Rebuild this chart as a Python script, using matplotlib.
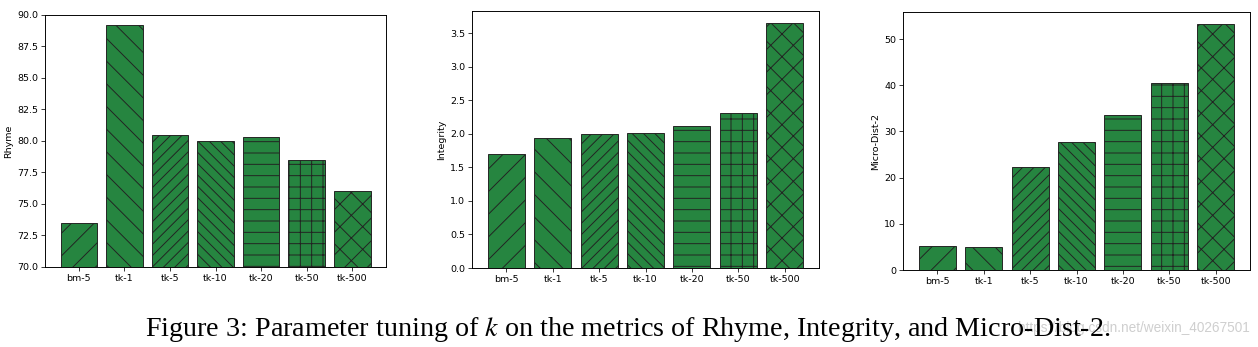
import matplotlib
matplotlib.use("Agg")
import matplotlib.pyplot as plt

categories = ["bm-5", "tk-1", "tk-5", "tk-10", "tk-20", "tk-50", "tk-500"]
hatches = ["/", "\\", "//", "\\\\", "-", "+", "x"]
rhyme = [73.5, 89.2, 80.5, 80.0, 80.3, 78.5, 76.0]
integrity = [1.70, 1.94, 2.00, 2.01, 2.12, 2.31, 3.65]
micro_dist2 = [5.3, 4.9, 22.3, 27.8, 33.6, 40.5, 53.2]

W, H = 1258, 347
DPI = 68
S = 100 / DPI  # scale so point sizes given at 100 dpi look the same
fig = plt.figure(figsize=(W / DPI, H / DPI), dpi=DPI)
plt.rcParams['hatch.linewidth'] = 1.0
plt.rcParams['hatch.color'] = '#222222'

panels = [
    (45, 386, 15, 267, rhyme, "Rhyme", (70, 90), [70.0, 72.5, 75.0, 77.5, 80.0, 82.5, 85.0, 87.5, 90.0], "{:.1f}"),
    (472, 819, 11, 268, integrity, "Integrity", None, [0.0, 0.5, 1.0, 1.5, 2.0, 2.5, 3.0, 3.5], "{:.1f}"),
    (903, 1250, 12, 270, micro_dist2, "Micro-Dist-2", None, [0, 10, 20, 30, 40, 50], "{:d}"),
]
green = "#268540"
for (l, r, t, b, vals, lab, ylim, ticks, fmt) in panels:
    ax = fig.add_axes([l / W, 1 - b / H, (r - l) / W, (b - t) / H])
    bars = ax.bar(categories, vals, color=green, edgecolor="#222222", linewidth=1.0)
    for bar, h in zip(bars, hatches):
        bar.set_hatch(h)
    if ylim:
        ax.set_ylim(*ylim)
    ax.set_yticks(ticks)
    ax.set_yticklabels([fmt.format(v) for v in ticks])
    ax.tick_params(labelsize=6.8 * S, length=3 * S, width=0.8, pad=2 * S)
    ax.set_ylabel(lab, fontsize=6.8 * S, labelpad=3 * S)
    for s in ax.spines.values():
        s.set_linewidth(1.0)

fig.text(1 - 8 / W, 1 - 328 / H, "https://blog.csdn.net/weixin_40267501", ha="right", va="center",
         fontsize=9.8 * S, color="#cfcfcf", family="Liberation Sans", zorder=1)
fig.text(628 / W, 1 - 329 / H, "Figure 3: Parameter tuning of $k$ on the metrics of Rhyme, Integrity, and Micro-Dist-2.",
         ha="center", va="center", fontsize=20.3 * S, family="Liberation Serif",
         math_fontfamily="stix", zorder=2)

fig.savefig("out.png", dpi=DPI)
